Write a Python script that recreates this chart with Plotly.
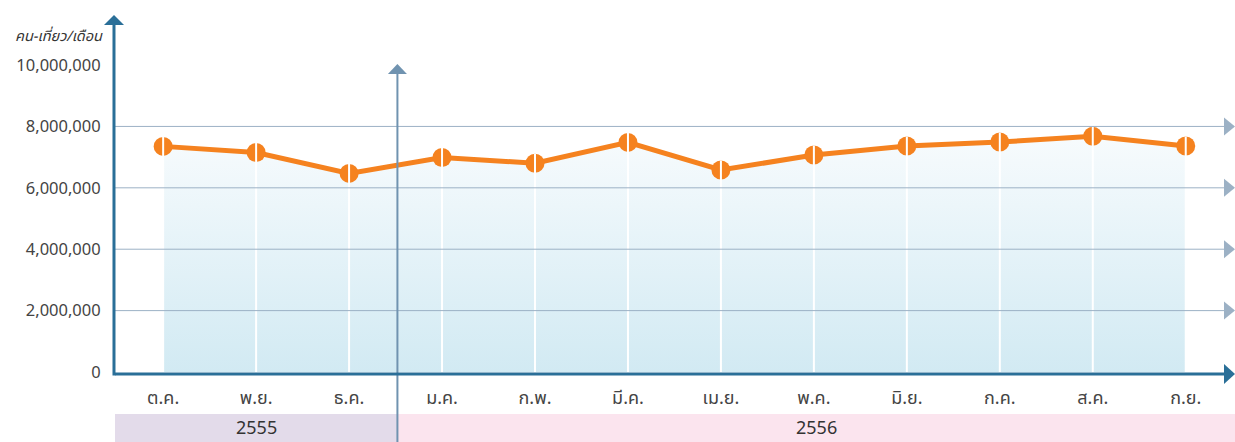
import plotly.graph_objects as go

# ---------------- data ----------------
months = ["ต.ค.", "พ.ย.", "ธ.ค.", "ม.ค.", "ก.พ.", "มี.ค.", "เม.ย.", "พ.ค.", "มิ.ย.", "ก.ค.", "ส.ค.", "ก.ย."]
passengers = [7350000, 7150000, 6470000, 6990000, 6800000, 7480000,
              6580000, 7070000, 7360000, 7490000, 7680000, 7360000]
y_ticks = [0, 2000000, 4000000, 6000000, 8000000, 10000000]
grid_vals = [2000000, 4000000, 6000000, 8000000]
years = ["2555", "2556"]
year_bounds = [(-0.518, 2.52), (2.52, 11.53)]
y_title = "คน-เที่ยว/เดือน"

# ---------------- layout geometry ----------------
W, H = 1235, 442
L, R, T, B = 115, 0, 15, 70
plot_h = H - T - B
x_idx = list(range(len(months)))
x_range = [-0.518, 11.53]
y_max = 11.63e6
y_range = [0, y_max]


def ypaper(px):
    return (H - B - px) / plot_h


axis_col = "#2a6f98"
grid_col = "#9cb1c5"
div_col = "#7093b0"
orange = "#f5821f"
font_fam = "Noto Sans Thai, Noto Sans, DejaVu Sans, sans-serif"

fig = go.Figure()

# area + line
fig.add_trace(go.Scatter(
    x=x_idx, y=passengers, mode="lines+markers",
    line=dict(color=orange, width=5),
    marker=dict(color=orange, size=19),
    fill="tozeroy",
    fillgradient=dict(type="vertical", start=0, stop=7.7e6,
                      colorscale=[[0, "#d2eaf3"], [1, "#f7fbfd"]]),
    hoverinfo="skip", showlegend=False,
))

# white vertical separators through each point (from 0 up to top of marker)
px_per_unit = plot_h / y_max
sep_x, sep_y = [], []
for i, v in zip(x_idx, passengers):
    sep_x += [i, i, None]
    sep_y += [0, v + 9.5 / px_per_unit, None]
fig.add_trace(go.Scatter(
    x=sep_x, y=sep_y, mode="lines",
    line=dict(color="white", width=2),
    hoverinfo="skip", showlegend=False, connectgaps=False,
))

shapes = []
# year bands
band_cols = ["#e3dbea", "#fbe4ee"]
for (x0, x1), c in zip(year_bounds, band_cols):
    shapes.append(dict(type="rect", xref="x", yref="paper", x0=x0, x1=x1,
                       y0=ypaper(442), y1=ypaper(414), fillcolor=c,
                       line=dict(width=0), layer="below"))

# gridlines with arrowheads
for g in grid_vals:
    shapes.append(dict(type="line", xref="paper", yref="y", x0=0, x1=(1224 - L) / (W - L - R),
                       y0=g, y1=g, line=dict(color=grid_col, width=1), layer="above"))
    shapes.append(dict(type="path", xref="paper", yref="y", xsizemode="pixel", ysizemode="pixel",
                       xanchor=1, yanchor=g, path="M 0,0 L -11,9 L -11,-9 Z",
                       fillcolor=grid_col, line=dict(width=0), layer="above"))

# divider between years with arrow
shapes.append(dict(type="line", xref="x", yref="paper", x0=year_bounds[0][1], x1=year_bounds[0][1],
                   y0=ypaper(442), y1=ypaper(72), line=dict(color=div_col, width=2), layer="above"))
shapes.append(dict(type="path", xref="x", yref="paper", xsizemode="pixel", ysizemode="pixel",
                   xanchor=year_bounds[0][1], yanchor=ypaper(64), path="M 0,0 L -9.5,-10 L 9.5,-10 Z",
                   fillcolor=div_col, line=dict(width=0), layer="above"))

# x axis with arrow
shapes.append(dict(type="line", xref="paper", yref="paper", x0=0, x1=(1225 - L) / (W - L - R),
                   y0=ypaper(374), y1=ypaper(374), line=dict(color=axis_col, width=3), layer="above"))
shapes.append(dict(type="path", xref="paper", yref="paper", xsizemode="pixel", ysizemode="pixel",
                   xanchor=1, yanchor=ypaper(374), path="M 0,0 L -11,10 L -11,-10 Z",
                   fillcolor=axis_col, line=dict(width=0), layer="above"))

# y axis with arrow
shapes.append(dict(type="line", xref="paper", yref="paper", x0=-0.0009, x1=-0.0009,
                   y0=ypaper(375.5), y1=ypaper(24), line=dict(color=axis_col, width=3), layer="above"))
shapes.append(dict(type="path", xref="paper", yref="paper", xsizemode="pixel", ysizemode="pixel",
                   xanchor=-0.0009, yanchor=1, path="M 0,0 L -10,-10 L 10,-10 Z",
                   fillcolor=axis_col, line=dict(width=0), layer="above"))

annotations = [
    dict(text=y_title, xref="paper", yref="paper", x=-(L - 105) / (W - L - R), y=ypaper(37),
         xanchor="right", yanchor="middle", showarrow=False,
         font=dict(family=font_fam, size=14.5, color="#333333", style="italic")),
]
for (x0, x1), yr in zip(year_bounds, years):
    annotations.append(dict(text=yr, xref="x", yref="paper", x=(x0 + x1) / 2, y=ypaper(429),
                            xanchor="center", yanchor="middle", showarrow=False,
                            font=dict(family=font_fam, size=18, color="#333333")))

fig.update_layout(
    width=W, height=H,
    margin=dict(l=L, r=R, t=T, b=B, pad=0, autoexpand=False),
    paper_bgcolor="white", plot_bgcolor="white",
    shapes=shapes, annotations=annotations,
    xaxis=dict(range=x_range, tickvals=x_idx, ticktext=months, showgrid=False,
               zeroline=False, showline=False, ticks="outside", ticklen=9,
               tickcolor="rgba(0,0,0,0)", automargin=False,
               tickfont=dict(family=font_fam, size=18, color="#444444"), fixedrange=True),
    yaxis=dict(range=y_range, tickvals=y_ticks, tickformat=",", showgrid=False,
               zeroline=False, showline=False, ticks="outside", ticklen=10,
               tickcolor="rgba(0,0,0,0)", automargin=False,
               tickfont=dict(family=font_fam, size=16.5, color="#444444"), fixedrange=True),
)

fig.write_html("out.html", config={"displayModeBar": False},
               post_script="document.body.style.margin='0px';document.body.style.overflow='hidden';")
